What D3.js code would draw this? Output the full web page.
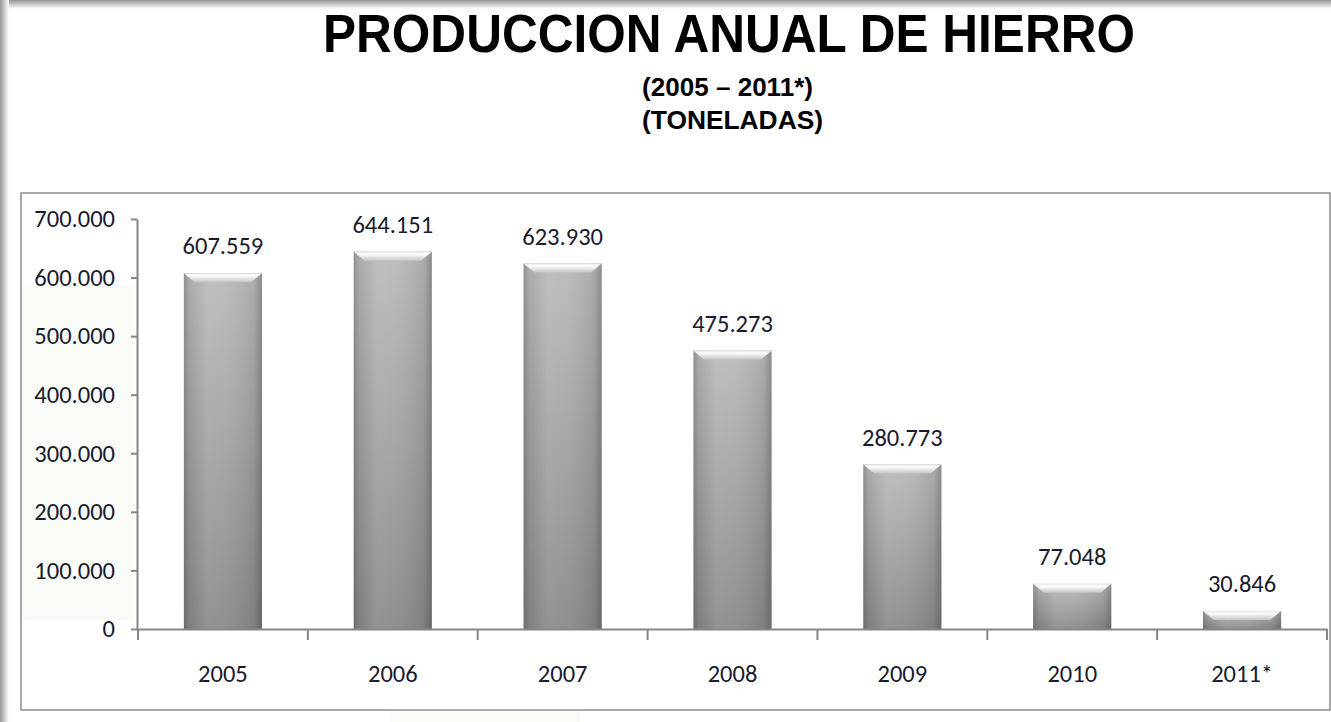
<!DOCTYPE html>
<html>
<head>
<meta charset="utf-8">
<script src="https://d3js.org/d3.v7.min.js"></script>
<style>
  body {margin:0; background:#fff;}
  svg {display:block;}
</style>
</head>
<body>
<script>
// datos
var years = ["2005", "2006", "2007", "2008", "2009", "2010", "2011*"]
var toneladas = [607559, 644151, 623930, 475273, 280773, 77048, 30846]
var yTicks = [0, 100000, 200000, 300000, 400000, 500000, 600000, 700000]
var titulo = "PRODUCCION ANUAL DE HIERRO"
var subtitulos = ["(2005 \u2013 2011*)", "(TONELADAS)"]

var width = 1331, height = 722
var numFont = "Carlito, Calibri, Lato, sans-serif"
var narrowFont = "'Liberation Sans Narrow', 'Arial Narrow', 'Liberation Sans', Arial, sans-serif"

var es = d3.formatLocale({decimal: ",", thousands: ".", grouping: [3], currency: ["$", ""]})
var fmt = es.format(",d")

var svg = d3.select("body").append("svg")
    .attr("width", width)
    .attr("height", height)

var defs = svg.append("defs")

function grad(id, x2, y2, stops) {
  var g = defs.append("linearGradient").attr("id", id)
      .attr("x1", 0).attr("y1", 0).attr("x2", x2).attr("y2", y2)
  stops.forEach(function(s) {
    g.append("stop").attr("offset", s[0]).attr("stop-color", s[1]).attr("stop-opacity", s[2] == null ? 1 : s[2])
  })
}
grad("shadowTop", 0, 1, [[0, "#959595"], [1, "#ffffff"]])
grad("shadowLeft", 1, 0, [[0, "#959595"], [1, "#ffffff"]])
grad("barV", 0, 1, [[0, "#bababa"], [1, "#8a8a8a"]])
grad("barH", 1, 0, [[0, "#000", 0.22], [0.07, "#000", 0.08], [0.3, "#fff", 0.08], [0.55, "#fff", 0.05], [0.9, "#000", 0.08], [1, "#000", 0.25]])
grad("bevel", 0, 1, [[0, "#e4e4e4"], [0.25, "#ffffff"], [1, "#c4c4c4"]])

// sombra del marco de la diapositiva
svg.append("rect").attr("x", 0).attr("y", 0).attr("width", width).attr("height", 9).attr("fill", "url(#shadowTop)")
svg.append("rect").attr("x", 0).attr("y", 0).attr("width", 9).attr("height", height).attr("fill", "url(#shadowLeft)")
svg.append("rect").attr("x", 9).attr("y", 9).attr("width", width - 9).attr("height", height - 9).attr("fill", "#fff")

// tinte verde del fondo
svg.append("rect").attr("x", 22).attr("y", 285).attr("width", 112).attr("height", 335).attr("fill", "#f9fcf6")
svg.append("rect").attr("x", 390).attr("y", 711).attr("width", 190).attr("height", 11).attr("fill", "#f9fcf6")

// titulos
svg.append("text")
    .attr("x", 729).attr("y", 52)
    .attr("text-anchor", "middle")
    .attr("textLength", 812).attr("lengthAdjust", "spacingAndGlyphs")
    .style("font-family", narrowFont).style("font-weight", "bold")
    .style("font-size", "54px").style("fill", "#000")
    .text(titulo)

svg.selectAll(".sub")
    .data(subtitulos)
    .enter().append("text")
    .attr("class", "sub")
    .attr("x", 642)
    .attr("y", function(d, i) { return 96 + i * 33 })
    .attr("textLength", function(d, i) { return i == 0 ? 171 : 181 })
    .attr("lengthAdjust", "spacingAndGlyphs")
    .style("font-family", narrowFont).style("font-weight", "bold")
    .style("font-size", "26px").style("fill", "#000")
    .text(function(d) { return d })

// marco del grafico
svg.append("rect")
    .attr("x", 21).attr("y", 193).attr("width", 1309).attr("height", 517)
    .attr("fill", "none").attr("stroke", "#8c8c8c").attr("stroke-width", 1.5)

var x = d3.scaleBand().domain(years).range([138, 1327]).padding(0)
var y = d3.scaleLinear().domain([0, 700000]).range([629, 219])
var barW = x.bandwidth() * 0.46

// eje y
var yAxis = svg.append("g")
    .attr("transform", "translate(137,0)")
    .call(d3.axisLeft(y).tickValues(yTicks).tickSize(6).tickSizeOuter(0).tickPadding(16).tickFormat(fmt))
yAxis.select(".domain").attr("stroke", "#868686").attr("stroke-width", 2)
yAxis.selectAll(".tick line").attr("stroke", "#868686").attr("stroke-width", 2)
yAxis.selectAll("text")
    .style("font-family", numFont).style("font-size", "24.5px").style("fill", "#1a1a2e")

// barras
var bars = svg.append("g").selectAll("g")
    .data(toneladas)
    .enter().append("g")

function bx(d, i) { return x(years[i]) + (x.bandwidth() - barW) / 2 }

bars.append("rect")
    .attr("x", bx).attr("y", function(d) { return y(d) })
    .attr("width", barW).attr("height", function(d) { return y(0) - y(d) })
    .attr("fill", "url(#barV)")
bars.append("rect")
    .attr("x", bx).attr("y", function(d) { return y(d) })
    .attr("width", barW).attr("height", function(d) { return y(0) - y(d) })
    .attr("fill", "url(#barH)")
bars.append("polygon")
    .attr("points", function(d, i) {
      var x0 = bx(d, i), x1 = x0 + barW, y0 = y(d)
      var b = Math.min(9, (y(0) - y(d)) / 2)
      return [[x0, y0], [x1, y0], [x1 - b * 1.2, y0 + b], [x0 + b * 1.2, y0 + b]].join(" ")
    })
    .attr("fill", "url(#bevel)")

// etiquetas de valor
bars.append("text")
    .attr("x", function(d, i) { return x(years[i]) + x.bandwidth() / 2 })
    .attr("y", function(d) { return y(d) - 19 })
    .attr("text-anchor", "middle")
    .style("font-family", numFont).style("font-size", "24.5px").style("fill", "#1a1a2e")
    .text(function(d) { return fmt(d) })

// eje x
var xAxis = svg.append("g")
    .attr("transform", "translate(0," + y(0) + ")")
    .call(d3.axisBottom(x).tickSize(0).tickPadding(53).tickSizeOuter(0))
xAxis.select(".domain").attr("stroke", "#868686").attr("stroke-width", 2)
xAxis.selectAll("text")
    .attr("dy", 0)
    .style("font-family", numFont).style("font-size", "24.5px").style("fill", "#1a1a2e")

xAxis.selectAll(".sep")
    .data(years.concat(["fin"]))
    .enter().append("line")
    .attr("class", "sep")
    .attr("x1", function(d) { return d == "fin" ? x.range()[1] : x(d) })
    .attr("x2", function(d) { return d == "fin" ? x.range()[1] : x(d) })
    .attr("y1", 0).attr("y2", 11)
    .attr("stroke", "#868686").attr("stroke-width", 2)
</script>
</body>
</html>
